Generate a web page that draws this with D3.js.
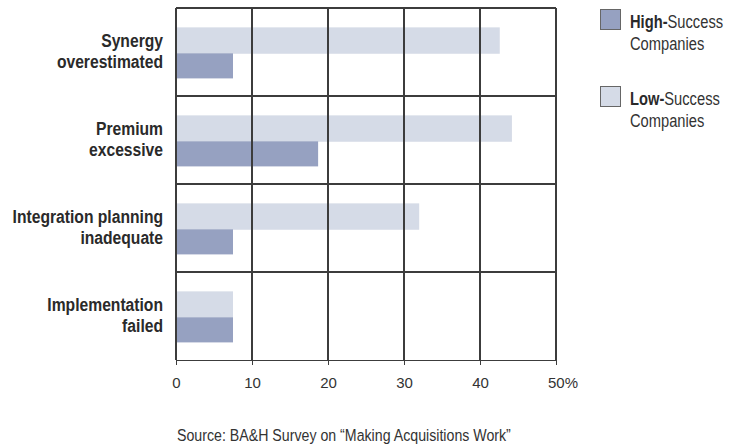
<!DOCTYPE html>
<html>
<head>
<meta charset="utf-8">
<script src="https://cdn.jsdelivr.net/npm/d3@7"></script>
<style>
    body { margin: 0; background: #fff; }
    svg { font-family: "Liberation Sans", Arial, sans-serif; }
    .grid line { stroke: #3c3c3c; stroke-width: 1.3; shape-rendering: crispEdges; }
    .axis path, .axis line { stroke: #3c3c3c; stroke-width: 1.3; shape-rendering: crispEdges; }
    .axis text { font-size: 15px; fill: #333; }
    .cat { font-size: 18px; font-weight: bold; fill: #2a2a2a; }
    .legend text { font-size: 17.5px; fill: #333; }
    .source { font-size: 16.5px; fill: #333; }
</style>
</head>
<body>
<div id="chart"></div>
<script>
    // values, % of companies
    var categories = [["Synergy", "overestimated"], ["Premium", "excessive"],
        ["Integration planning", "inadequate"], ["Implementation", "failed"]];
    var lowSuccess = [42.6, 44.2, 32.0, 7.5];
    var highSuccess = [7.5, 18.7, 7.5, 7.5];
    var xTicks = [0, 10, 20, 30, 40, 50];
    var seriesNames = ["High", "Low"];

    var margin = {top: 8, right: 182, bottom: 86, left: 176},
        width = 738 - margin.left - margin.right,
        height = 446 - margin.top - margin.bottom;
    // the original type is a condensed face; squeeze Liberation Sans to match
    var squeeze = 0.87;

    var svg = d3.select("#chart").append("svg")
        .attr("width", 738)
        .attr("height", 446);
    var g = svg.append("g").attr("transform", "translate(" + margin.left + "," + margin.top + ")");

    var x = d3.scaleLinear().domain([0, 50]).range([0, width]);
    var y = d3.scaleBand().domain(d3.range(categories.length)).range([0, height]).padding(0);
    var bw = y.bandwidth();

    // bars
    g.selectAll("rect.low").data(lowSuccess).enter()
        .append("rect")
        .attr("class", "low")
        .attr("x", x(0))
        .attr("y", function (d, i) { return y(i) + bw * 0.22; })
        .attr("height", bw * 0.3)
        .attr("width", function (d) { return x(d) - x(0); })
        .attr("fill", "#d5dbe7");
    g.selectAll("rect.high").data(highSuccess).enter()
        .append("rect")
        .attr("class", "high")
        .attr("x", x(0))
        .attr("y", function (d, i) { return y(i) + bw * 0.515; })
        .attr("height", bw * 0.285)
        .attr("width", function (d) { return x(d) - x(0); })
        .attr("fill", "#96a1c1");

    // grid
    var grid = g.append("g").attr("class", "grid");
    grid.selectAll("line.v").data(xTicks).enter()
        .append("line")
        .attr("x1", function (d) { return x(d); })
        .attr("x2", function (d) { return x(d); })
        .attr("y1", 0).attr("y2", height);
    grid.selectAll("line.h").data(d3.range(categories.length)).enter()
        .append("line")
        .attr("x1", 0).attr("x2", width)
        .attr("y1", function (d) { return y(d); })
        .attr("y2", function (d) { return y(d); });

    // x axis
    var xAxis = d3.axisBottom(x).tickValues(xTicks).tickSizeInner(5).tickSizeOuter(0).tickPadding(12)
        .tickFormat(function (d) { return d; });
    var ax = g.append("g")
        .attr("class", "axis")
        .attr("transform", "translate(0," + height + ")")
        .call(xAxis);
    var last = ax.selectAll(".tick").filter(function (d) { return d === 50; }).select("text");
    last.append("tspan").text("%");
    last.attr("text-anchor", "start").attr("x", -8.5);

    // category labels
    var labels = g.selectAll("g.cat").data(categories).enter()
        .append("g")
        .attr("transform", function (d, i) { return "translate(-13," + (y(i) + 39) + ") scale(" + squeeze + ",1)"; })
        .append("text")
        .attr("class", "cat")
        .attr("text-anchor", "end");
    labels.selectAll("tspan").data(function (d) { return d; }).enter()
        .append("tspan")
        .attr("x", 0)
        .attr("dy", function (d, i) { return i === 0 ? 0 : 21; })
        .text(function (d) { return d; });

    // legend
    var legend = svg.append("g").attr("class", "legend")
        .selectAll("g").data(seriesNames).enter()
        .append("g")
        .attr("transform", function (d, i) { return "translate(600," + (9 + i * 77) + ")"; });
    legend.append("rect")
        .attr("x", 0.5).attr("y", 0.5)
        .attr("width", 20).attr("height", 20)
        .attr("fill", function (d) { return d === "High" ? "#96a1c1" : "#d5dbe7"; })
        .attr("stroke", "#666")
        .attr("stroke-width", 1);
    var lg = legend.append("g").attr("transform", "translate(30,0) scale(0.84,1)");
    var lt = lg.append("text").attr("y", 19);
    lt.append("tspan").attr("font-weight", "bold").attr("fill", "#2a2a2a").text(function (d) { return d + "-"; });
    lt.append("tspan").text("Success");
    lg.append("text").attr("y", 41).text("Companies");

    svg.append("g")
        .attr("transform", "translate(177,441) scale(0.86,1)")
        .append("text")
        .attr("class", "source")
        .text("Source: BA&H Survey on \u201cMaking Acquisitions Work\u201d");
</script>
</body>
</html>
